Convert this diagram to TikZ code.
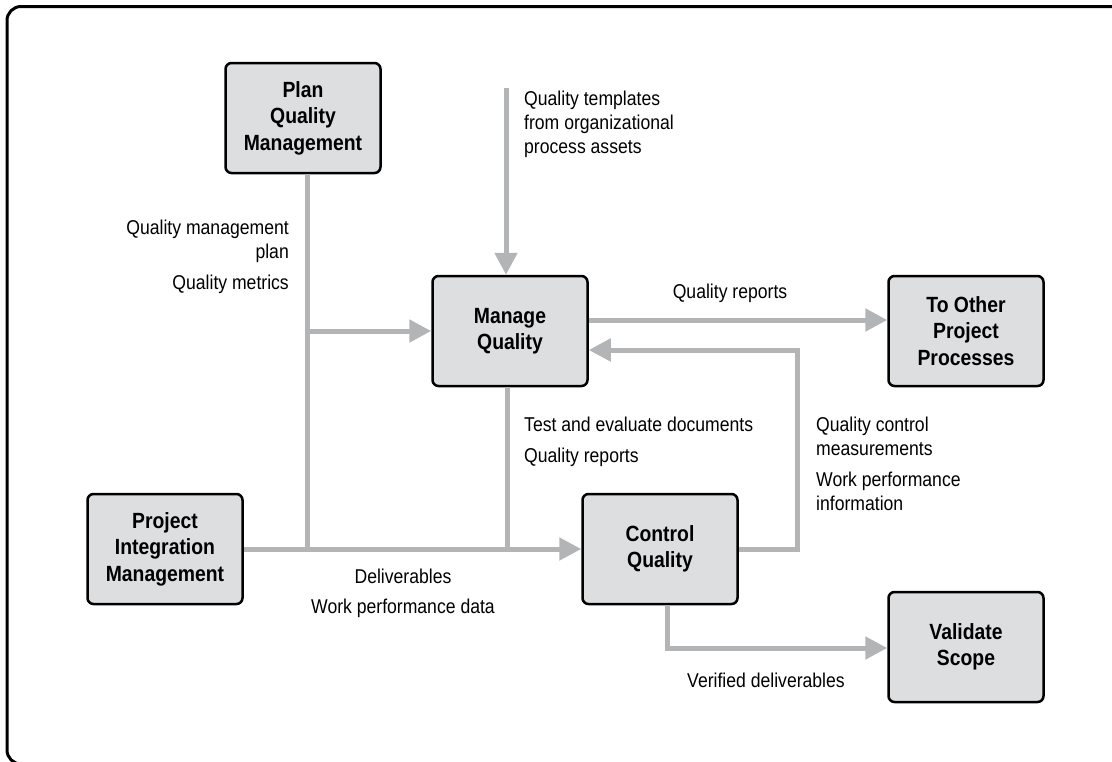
\documentclass[tikz,border=0pt]{standalone}
\usepackage{fontspec}
\setmainfont{Liberation Sans}[FakeStretch=0.88]
\usepackage{xcolor}
\usepackage{tikz}
\usetikzlibrary{arrows.meta, positioning, calc}
\definecolor{linegray}{RGB}{178,180,182}
\definecolor{boxgray}{RGB}{221,222,224}

\begin{document}
\begin{tikzpicture}[x=1pt, y=-1pt,
    procbox/.style={draw=black, line width=2.5pt, fill=boxgray, rounded corners=6pt,
        minimum width=155pt, minimum height=110pt, align=center,
        font=\fontsize{22}{26.5}\selectfont\bfseries},
    lbl/.style={inner sep=0pt, font=\fontsize{20}{24}\selectfont},
    link/.style={draw=linegray, line width=5pt},
    flow/.style={link, -{Triangle[length=22pt, width=22pt]}}]
    \useasboundingbox (0,0) rectangle (1112,761);
    \clip (0,0) rectangle (1112,761);
    \draw[line width=3pt, rounded corners=14pt] (7,6.5) rectangle (1150,764);

    % processes
    \node[procbox] (pqm) at (303,118) {Plan\\Quality\\Management};
    \node[procbox] (mq) at (510,331) {Manage\\Quality};
    \node[procbox] (oth) at (966,331) {To Other\\Project\\Processes};
    \node[procbox] (pim) at (165,549) {Project\\Integration\\Management};
    \node[procbox] (cq) at (660,549) {Control\\Quality};
    \node[procbox] (vs) at (966,647) {Validate\\Scope};

    % bends and joins
    \coordinate (j1) at (307,549);
    \coordinate (j2) at (507,549);
    \coordinate (tpl) at (506,88);
    \coordinate (fb) at (797,350);
    \coordinate (vd) at (667,648);

    % connectors
    \draw[link] (j1 |- pqm.south) -- (j1);
    \draw[flow] (j1 |- mq.west) -- (mq.west);
    \draw[flow] (tpl) -- (tpl |- mq.north);
    \draw[flow] ([yshift=11pt]mq.east) -- ([yshift=11pt]mq.east -| oth.west);
    \draw[flow] (cq.east) -- (fb |- cq.east) -- (fb) -- (fb -| mq.east);
    \draw[link] (j2 |- mq.south) -- (j2);
    \draw[flow] (pim.east) -- (cq.west);
    \draw[flow] (vd |- cq.south) -- (vd) -- (vd -| vs.west);

    % labels
    \node[lbl, align=right, anchor=east] (qmp) at (289,257) {Quality management\\plan\\[7pt]Quality metrics};
    \node[lbl, align=left, anchor=west] (qtl) at (524,124) {Quality templates\\from organizational\\process assets};
    \node[lbl] (qr1) at (730,293) {Quality reports};
    \node[lbl, align=left, anchor=west] (ted) at (524,442) {Test and evaluate documents\\[7pt]Quality reports};
    \node[lbl, align=left, anchor=west] (qcm) at (816,464) {Quality control\\measurements\\[7pt]Work performance\\information};
    \node[lbl, align=center] (dlv) at (403,593) {Deliverables\\[6pt]Work performance data};
    \node[lbl] (vdl) at (766,680) {Verified deliverables};
\end{tikzpicture}
\end{document}
